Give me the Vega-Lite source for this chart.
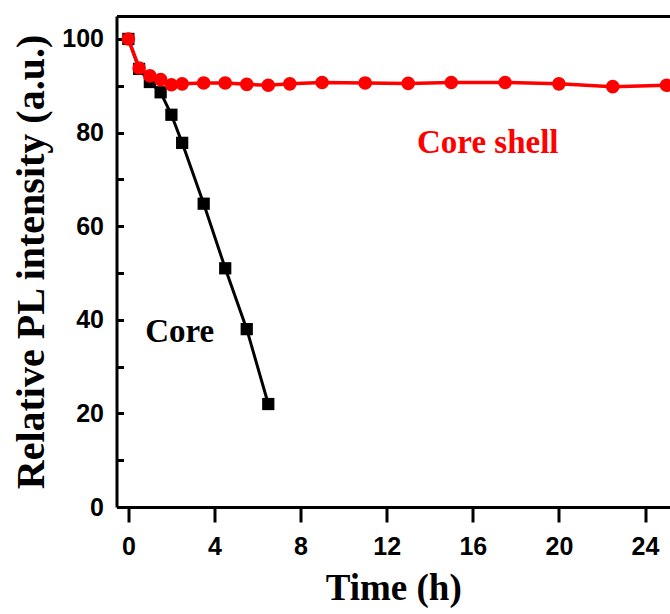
{
  "$schema": "https://vega.github.io/schema/vega-lite/v6.json",
  "width": 553.5,
  "height": 491,
  "autosize": {"type": "none"},
  "padding": {"left": 116.5, "top": 16, "right": 0, "bottom": 107},
  "background": "white",
  "config": {
    "view": {"stroke": null},
    "axis": {
      "grid": false,
      "domainColor": "black",
      "domainWidth": 3,
      "tickColor": "black",
      "tickWidth": 3,
      "labelFont": "Liberation Sans",
      "labelFontWeight": "bold",
      "labelFontSize": 25,
      "labelColor": "black",
      "titleFont": "Liberation Serif",
      "titleFontWeight": "bold",
      "titleFontSize": 37,
      "titleColor": "black"
    }
  },
  "datasets": {
    "core": [
      {"t": 0, "v": 100},
      {"t": 0.5, "v": 93.6},
      {"t": 1, "v": 90.8},
      {"t": 1.5, "v": 88.6},
      {"t": 2, "v": 83.8},
      {"t": 2.5, "v": 77.8},
      {"t": 3.5, "v": 64.8},
      {"t": 4.5, "v": 51},
      {"t": 5.5, "v": 38},
      {"t": 6.5, "v": 22}
    ],
    "shell": [
      {"t": 0, "v": 100},
      {"t": 0.5, "v": 93.8},
      {"t": 1, "v": 92.1},
      {"t": 1.5, "v": 91.3},
      {"t": 2, "v": 90.2},
      {"t": 2.5, "v": 90.4},
      {"t": 3.5, "v": 90.6},
      {"t": 4.5, "v": 90.6},
      {"t": 5.5, "v": 90.3},
      {"t": 6.5, "v": 90.1},
      {"t": 7.5, "v": 90.4},
      {"t": 9, "v": 90.7},
      {"t": 11, "v": 90.6},
      {"t": 13, "v": 90.5},
      {"t": 15, "v": 90.7},
      {"t": 17.5, "v": 90.7},
      {"t": 20, "v": 90.4},
      {"t": 22.5, "v": 89.8},
      {"t": 25, "v": 90.1}
    ]
  },
  "resolve": {"axis": {"x": "independent"}},
  "layer": [
    {
      "data": {"name": "core"},
      "mark": {"type": "line", "color": "black", "strokeWidth": 3, "clip": true},
      "encoding": {
        "x": {
          "field": "t", "type": "quantitative",
          "scale": {"domain": [-0.55, 25.16], "nice": false, "zero": false},
          "axis": {
            "title": "Time (h)",
            "orient": "bottom",
            "values": [0, 4, 8, 12, 16, 20, 24],
            "tickSize": 15,
            "labelPadding": 12,
            "titlePadding": 11
          }
        },
        "y": {
          "field": "v", "type": "quantitative",
          "scale": {"domain": [0, 104.9], "nice": false},
          "axis": {
            "title": "Relative PL intensity (a.u.)",
            "titleFontSize": 40,
            "values": [0, 10, 20, 30, 40, 50, 60, 70, 80, 90, 100],
            "labelExpr": "datum.value % 20 == 0 ? datum.label : ''",
            "tickSize": -7,
            "labelPadding": 20,
            "titlePadding": 10
          }
        }
      }
    },
    {
      "data": {"name": "core"},
      "mark": {"type": "point", "shape": "square", "filled": true, "color": "black", "size": 150, "opacity": 1},
      "encoding": {
        "x": {"field": "t", "type": "quantitative", "axis": null},
        "y": {"field": "v", "type": "quantitative"}
      }
    },
    {
      "data": {"name": "shell"},
      "mark": {"type": "line", "color": "#ff0000", "strokeWidth": 3.5},
      "encoding": {
        "x": {
          "field": "t", "type": "quantitative",
          "axis": {"orient": "top", "title": null, "labels": false, "ticks": false, "values": [0, 4, 8, 12, 16, 20, 24]}
        },
        "y": {"field": "v", "type": "quantitative"}
      }
    },
    {
      "data": {"name": "shell"},
      "mark": {"type": "circle", "color": "#ff0000", "size": 185, "opacity": 1},
      "encoding": {
        "x": {"field": "t", "type": "quantitative", "axis": null},
        "y": {"field": "v", "type": "quantitative"}
      }
    },
    {
      "data": {"values": [{"t": 13.41, "v": 75.6, "label": "Core shell"}]},
      "mark": {"type": "text", "color": "#ff0000", "font": "Liberation Serif", "fontWeight": "bold", "fontSize": 33, "align": "left", "baseline": "alphabetic"},
      "encoding": {
        "x": {"field": "t", "type": "quantitative", "axis": null},
        "y": {"field": "v", "type": "quantitative"},
        "text": {"field": "label"}
      }
    },
    {
      "data": {"values": [{"t": 0.78, "v": 35.3, "label": "Core"}]},
      "mark": {"type": "text", "color": "black", "font": "Liberation Serif", "fontWeight": "bold", "fontSize": 33, "align": "left", "baseline": "alphabetic"},
      "encoding": {
        "x": {"field": "t", "type": "quantitative", "axis": null},
        "y": {"field": "v", "type": "quantitative"},
        "text": {"field": "label"}
      }
    }
  ]
}
